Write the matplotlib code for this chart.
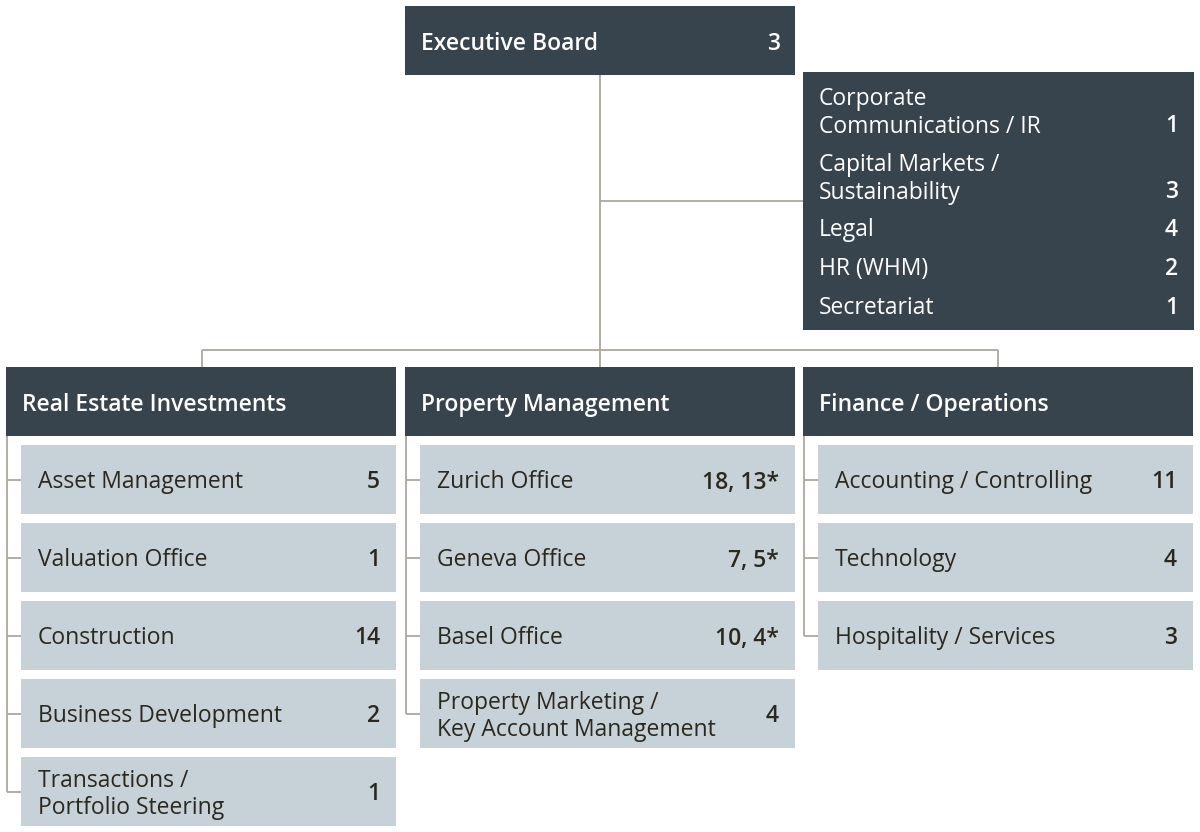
import matplotlib
matplotlib.use("Agg")
import matplotlib.pyplot as plt
from matplotlib.patches import Rectangle

plt.rcParams['font.family'] = ['Open Sans', 'DejaVu Sans']

DARK = '#37444e'
LIGHT = '#c6d1d8'
LINE = '#aca89f'
TXT = '#2b291d'

top_name = "Executive Board"
top_count = "3"

staff_names = ["Corporate\nCommunications / IR", "Capital Markets /\nSustainability",
               "Legal", "HR (WHM)", "Secretariat"]
staff_counts = ["1", "3", "4", "2", "1"]

dept_names = ["Real Estate Investments", "Property Management", "Finance / Operations"]
rei_names = ["Asset Management", "Valuation Office", "Construction",
             "Business Development", "Transactions /\nPortfolio Steering"]
rei_counts = ["5", "1", "14", "2", "1"]
pm_names = ["Zurich Office", "Geneva Office", "Basel Office",
            "Property Marketing /\nKey Account Management"]
pm_counts = ["18, 13*", "7, 5*", "10, 4*", "4"]
fo_names = ["Accounting / Controlling", "Technology", "Hospitality / Services"]
fo_counts = ["11", "4", "3"]

sub_names = [rei_names, pm_names, fo_names]
sub_counts = [rei_counts, pm_counts, fo_counts]

fig = plt.figure(figsize=(12, 8.32), dpi=100)
ax = fig.add_axes([0, 0, 1, 1])
ax.set_xlim(0, 1200)
ax.set_ylim(832, 0)
ax.axis('off')

FS = 16.5
LW = 1.3
LS = 1.2

def box(x0, y0, x1, y1, color):
    ax.add_patch(Rectangle((x0, y0), x1 - x0, y1 - y0, facecolor=color, edgecolor='none', zorder=2))

def line(xs, ys):
    ax.plot(xs, ys, color=LINE, lw=LW, zorder=1, solid_capstyle='butt')

# Connectors from top
line([600, 600], [75, 367])
line([600, 803], [201, 201])
line([202, 998], [350, 350])
line([202, 202], [350, 367])
line([998, 998], [350, 367])

# Executive board
box(405, 6, 795, 75, DARK)
ax.text(421, 44, top_name, color='white', fontsize=FS, fontweight='semibold', va='center', ha='left', zorder=3)
ax.text(780, 44, top_count, color='white', fontsize=FS, fontweight='semibold', va='center', ha='right', zorder=3)

# Staff box
box(803, 72, 1194, 330, DARK)
staff_y = [113, 179, 230, 269, 308]
for name, cnt, y in zip(staff_names, staff_counts, staff_y):
    ax.text(819, y, name, color='white', fontsize=FS, va='center', ha='left', zorder=3, linespacing=LS)
    ny = y + 13.5 if '\n' in name else y
    ax.text(1178, ny, cnt, color='white', fontsize=FS, fontweight='semibold', va='center', ha='right', zorder=3)

# Departments
col_x = [6, 405, 803]
col_w = 390
item_y0 = [445, 523, 601, 679, 757]
item_h = 69
for i, (dname, names, counts) in enumerate(zip(dept_names, sub_names, sub_counts)):
    x0 = col_x[i]
    box(x0, 367, x0 + col_w, 436, DARK)
    ax.text(x0 + 16, 405, dname, color='white', fontsize=FS, fontweight='semibold', va='center', ha='left', zorder=3)
    n = len(names)
    last_c = item_y0[n - 1] + item_h / 2
    line([x0 + 1, x0 + 1], [436, last_c])
    for j, (nm, ct) in enumerate(zip(names, counts)):
        y0 = item_y0[j]
        yc = y0 + item_h / 2
        box(x0 + 15, y0, x0 + col_w, y0 + item_h, LIGHT)
        line([x0 + 1, x0 + 15], [yc, yc])
        ax.text(x0 + 32, yc + 3, nm, color=TXT, fontsize=FS, va='center', ha='left', zorder=3, linespacing=LS)
        ax.text(x0 + col_w - 16, yc + 3, ct, color=TXT, fontsize=FS, fontweight='semibold', va='center', ha='right', zorder=3)

fig.savefig("out.png", dpi=100)
